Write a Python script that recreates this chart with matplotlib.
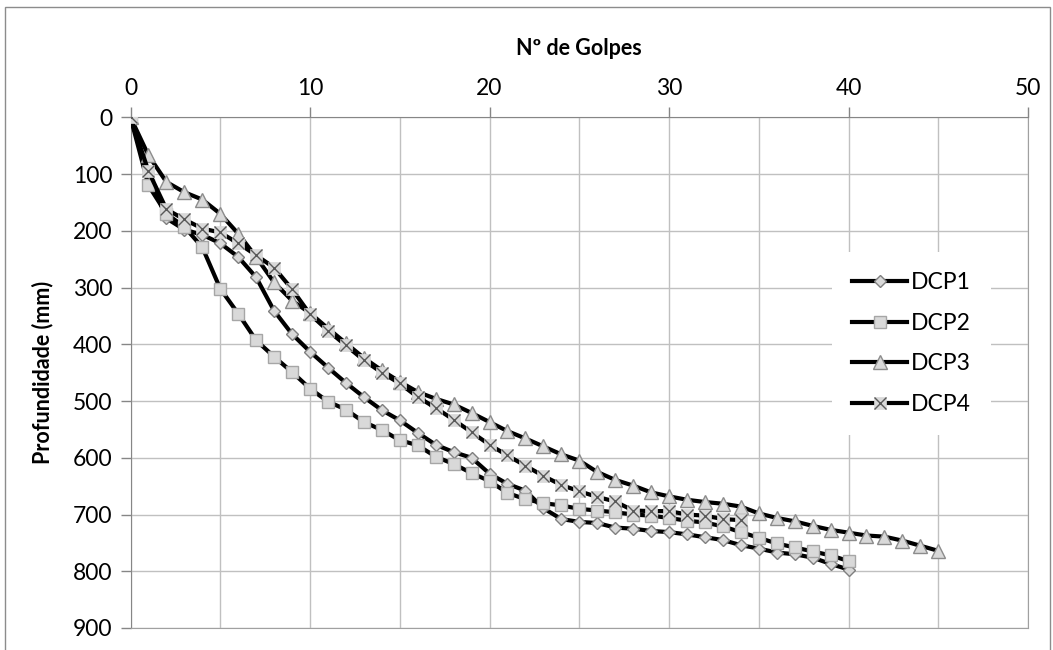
import matplotlib
matplotlib.use("Agg")
import matplotlib.pyplot as plt
from matplotlib.legend_handler import HandlerTuple
from matplotlib.patches import Rectangle

plt.rcParams['font.family'] = ['Lato', 'DejaVu Sans']

# golpes (x) e profundidade em mm (y)
golpes_1 = list(range(0, 41))
dcp1 = [0, 100, 178, 198, 207, 222, 246, 282, 341, 382,
        413, 441, 468, 493, 516, 534, 556, 577, 590, 600,
        628, 646, 658, 689, 708, 713, 715, 723, 725, 729,
        731, 735, 740, 745, 754, 760, 767, 770, 776, 787,
        797]

golpes_2 = list(range(0, 41))
dcp2 = [0, 120, 170, 193, 229, 302, 346, 393, 422, 449,
        478, 501, 515, 537, 551, 569, 578, 598, 611, 627,
        641, 662, 673, 680, 684, 690, 693, 696, 700, 702,
        706, 711, 714, 721, 731, 741, 751, 758, 765, 772,
        782]

golpes_3 = list(range(0, 46))
dcp3 = [0, 67, 114, 132, 145, 170, 205, 246, 291, 323,
        345, 372, 398, 424, 446, 466, 484, 496, 506, 521,
        537, 553, 566, 580, 594, 605, 625, 639, 649, 661,
        668, 674, 678, 681, 686, 698, 706, 712, 720, 727,
        732, 737, 739, 746, 755, 764]

golpes_4 = list(range(0, 35))
dcp4 = [0, 95, 162, 180, 196, 203, 222, 243, 265, 303,
        347, 376, 402, 428, 450, 469, 493, 512, 533, 555,
        577, 596, 614, 632, 648, 659, 669, 677, 693, 694,
        694, 700, 702, 708, 710]

x_ticks = [0, 10, 20, 30, 40, 50]
y_ticks = [0, 100, 200, 300, 400, 500, 600, 700, 800, 900]

FACE = '#d9d9d9'

fig = plt.figure(figsize=(10.53, 6.5), dpi=100)
ax = fig.add_axes([130.5 / 1053, 1 - 628 / 650, (1028 - 130.5) / 1053, (628 - 117.3) / 650])

# moldura externa do gráfico
fig.patches.append(Rectangle((5 / 1053, -0.05), 1045 / 1053, 1.05 - 7 / 650,
                             transform=fig.transFigure, fill=False,
                             edgecolor='#8c8c8c', lw=1))

l1, = ax.plot(golpes_1, dcp1, color='black', lw=3, marker='D', ms=6.5,
              mfc=FACE, mec='#7f7f7f', mew=1, zorder=3)
l2, = ax.plot(golpes_2, dcp2, color='black', lw=3, marker='s', ms=9,
              mfc=FACE, mec='#a6a6a6', mew=1, zorder=4)
l3, = ax.plot(golpes_3, dcp3, color='black', lw=3, marker='^', ms=9.5,
              mfc=FACE, mec='#8c8c8c', mew=1, zorder=5)
l4, = ax.plot(golpes_4, dcp4, color='black', lw=3, marker='s', ms=9,
              mfc=FACE, mec=FACE, mew=0.5, zorder=6)
l4x, = ax.plot(golpes_4, dcp4, ls='none', marker='x', ms=8.5,
               mec='#595959', mew=1, zorder=7)

ax.set_xlim(0, 50)
ax.set_ylim(900, 0)
ax.xaxis.tick_top()
ax.xaxis.set_label_position('top')
ax.set_xticks(x_ticks)
ax.set_xticks(range(5, 50, 10), minor=True)
ax.set_yticks(y_ticks)
ax.grid(which='both', color='#c0c0c0', lw=1, zorder=0)
ax.set_axisbelow(True)
ax.tick_params(axis='x', which='minor', length=0)
ax.tick_params(which='major', length=7, width=1, color='#868686',
               labelsize=16.5, pad=6)
ax.tick_params(axis='y', pad=6)
for s in ax.spines.values():
    s.set_color('#a0a0a0')
ax.spines['left'].set_color('#868686')
ax.spines['top'].set_color('#868686')

ax.set_xlabel('Nº de Golpes', fontsize=15.5, fontweight='bold', labelpad=17)
ax.set_ylabel('Profundidade (mm)', fontsize=15.5, fontweight='bold', labelpad=14)

leg = ax.legend([l1, l2, l3, (l4, l4x)], ['DCP1', 'DCP2', 'DCP3', 'DCP4'],
                handler_map={tuple: HandlerTuple(ndivide=1, pad=0)},
                loc='center right', bbox_to_anchor=(0.972, 0.557),
                fontsize=16.5, frameon=True, facecolor='white', edgecolor='none',
                framealpha=1, fancybox=False, handlelength=2.4,
                handletextpad=0.15, labelspacing=0.85, borderpad=0.9)
leg.set_zorder(10)

fig.savefig('out.png', dpi=100)
